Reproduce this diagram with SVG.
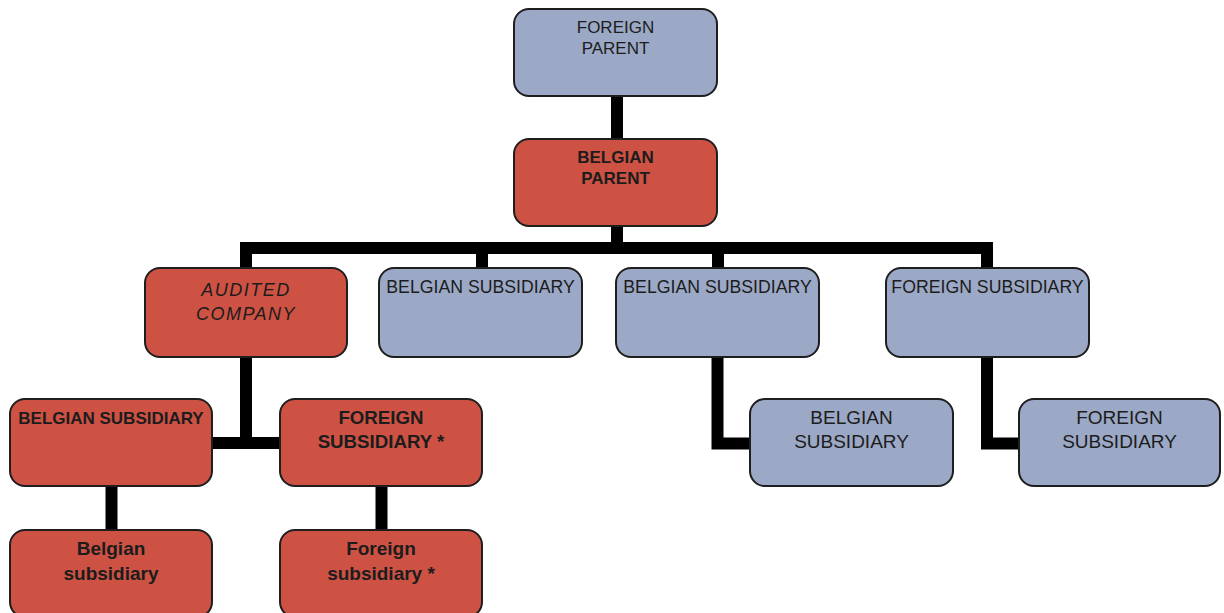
<svg xmlns="http://www.w3.org/2000/svg" width="1224" height="613" viewBox="0 0 1224 613">
<style>
.blue{fill:#9ba8c6;stroke:#1e1e1e;stroke-width:2}
.red{fill:#cd5244;stroke:#1e1e1e;stroke-width:2}
.t{font-family:"Liberation Sans",Arial,sans-serif;font-size:17px;fill:#1c1c1c;text-anchor:middle}
.b{font-weight:bold}
.m{font-size:17.7px}
.l{font-size:18.7px}
.xl{font-size:19px}
.i{font-style:italic;font-size:18px;letter-spacing:1.5px}
.c{fill:none;stroke:#000;stroke-width:12;stroke-linejoin:miter;stroke-linecap:butt}
</style>
<rect width="1224" height="613" fill="#ffffff"/>
<g id="connectors">
<path class="c" d="M617 96V139"/>
<path class="c" d="M617 226V248"/>
<path class="c" d="M246 268V248H987V268"/>
<path class="c" d="M482 248V268"/>
<path class="c" d="M718 248V268"/>
<path class="c" d="M246 357V443"/>
<path class="c" d="M212 443H280"/>
<path class="c" d="M717.5 357V443.5H750"/>
<path class="c" d="M987 357V443.5H1019"/>
<path class="c" d="M111.5 486V530"/>
<path class="c" d="M381.5 486V530"/>
</g>
<g id="foreign-parent">
<rect class="blue" x="514" y="9" width="203" height="87" rx="15"/>
<text class="t" x="615.5" y="33">FOREIGN</text>
<text class="t" x="615.5" y="54">PARENT</text>
</g>
<g id="belgian-parent">
<rect class="red" x="514" y="139" width="203" height="87" rx="15"/>
<text class="t b" x="615.5" y="163">BELGIAN</text>
<text class="t b" x="615.5" y="184">PARENT</text>
</g>
<g id="audited-company">
<rect class="red" x="145" y="268" width="202" height="89" rx="15"/>
<text class="t i" x="246" y="296">AUDITED</text>
<text class="t i" x="246" y="320">COMPANY</text>
</g>
<g id="belgian-subsidiary-1">
<rect class="blue" x="379" y="268" width="203" height="89" rx="15"/>
<text class="t m" x="480.5" y="293">BELGIAN SUBSIDIARY</text>
</g>
<g id="belgian-subsidiary-2">
<rect class="blue" x="616" y="268" width="203" height="89" rx="15"/>
<text class="t m" x="717.5" y="293">BELGIAN SUBSIDIARY</text>
</g>
<g id="foreign-subsidiary-1">
<rect class="blue" x="886" y="268" width="203" height="89" rx="15"/>
<text class="t m" x="987.5" y="293">FOREIGN SUBSIDIARY</text>
</g>
<g id="audited-belgian-subsidiary">
<rect class="red" x="10" y="399" width="202" height="87" rx="15"/>
<text class="t b" x="111" y="424">BELGIAN SUBSIDIARY</text>
</g>
<g id="audited-foreign-subsidiary">
<rect class="red" x="280" y="399" width="202" height="87" rx="15"/>
<text class="t b l" x="381" y="424">FOREIGN</text>
<text class="t b l" x="381" y="448">SUBSIDIARY *</text>
</g>
<g id="belgian-subsidiary-3">
<rect class="blue" x="750" y="399" width="203" height="87" rx="15"/>
<text class="t xl" x="851.5" y="424">BELGIAN</text>
<text class="t xl" x="851.5" y="448">SUBSIDIARY</text>
</g>
<g id="foreign-subsidiary-2">
<rect class="blue" x="1019" y="399" width="201" height="87" rx="15"/>
<text class="t xl" x="1119.5" y="424">FOREIGN</text>
<text class="t xl" x="1119.5" y="448">SUBSIDIARY</text>
</g>
<g id="belgian-subsidiary-4">
<rect class="red" x="10" y="530" width="202" height="87" rx="15"/>
<text class="t b xl" x="111" y="555">Belgian</text>
<text class="t b xl" x="111" y="580">subsidiary</text>
</g>
<g id="foreign-subsidiary-3">
<rect class="red" x="280" y="530" width="202" height="87" rx="15"/>
<text class="t b xl" x="381" y="555">Foreign</text>
<text class="t b xl" x="381" y="580">subsidiary *</text>
</g>
</svg>
